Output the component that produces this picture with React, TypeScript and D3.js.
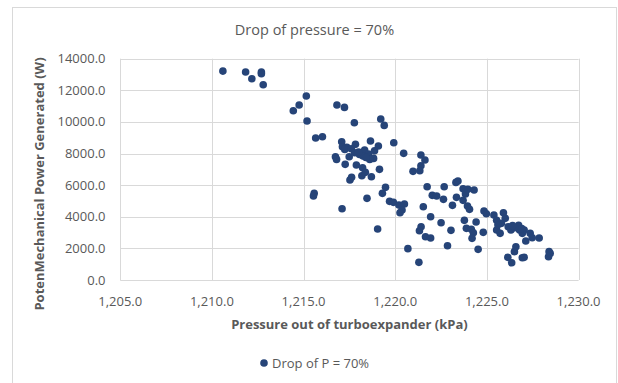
import { useRef, useEffect } from "react";
import * as d3 from "d3";

const pressure = [
  1210.6, 1211.84, 1212.18, 1212.7, 1212.7, 1212.8, 1215.15, 1214.76, 1214.44, 1215.19,
  1216.82, 1217.23, 1217.77, 1219.21, 1219.4, 1215.66, 1216.03, 1217.08, 1217.12, 1217.36,
  1217.25, 1217.83, 1218.65, 1219.08, 1219.92, 1216.74, 1216.8, 1217.49, 1217.79, 1218.05,
  1218.33, 1218.54, 1218.87, 1218.82, 1218.61, 1218.24, 1217.27, 1217.88, 1218.22, 1218.18,
  1218.37, 1218.7, 1217.53, 1217.62, 1219.14, 1220.46, 1221.4, 1221.62, 1221.4, 1221.34,
  1220.97, 1215.58, 1215.54, 1218.46, 1217.1, 1219.3, 1219.47, 1219.69, 1219.9, 1220.2,
  1220.5, 1220.37, 1220.26, 1219.04, 1220.69, 1221.29, 1221.53, 1221.74, 1222.02, 1222.26,
  1222.63, 1222.67, 1221.93, 1221.41, 1221.32, 1221.65, 1221.93, 1222.5, 1223.04, 1222.85,
  1223.12, 1223.34, 1223.31, 1223.42, 1223.7, 1223.83, 1223.96, 1224.3, 1223.7, 1223.94,
  1224.05, 1223.77, 1223.88, 1224.15, 1224.26, 1224.19, 1224.41, 1224.52, 1224.8, 1224.84,
  1224.97, 1225.38, 1225.53, 1225.9, 1226.0, 1225.53, 1225.72, 1225.79, 1226.14, 1226.35,
  1226.5, 1226.58, 1226.16, 1226.31, 1226.73, 1226.78, 1227.03, 1226.93, 1227.12, 1227.36,
  1227.47, 1227.85, 1226.93, 1227.03, 1228.39, 1228.36, 1228.45, 1226.5, 1218.0, 1218.4,
  1217.6, 1226.4, 1226.9, 1225.6,
];

const power = [
  13217, 13154, 12732, 13154, 13049, 12353, 11636, 11067, 10709, 10055,
  11067, 10919, 9950, 10182, 9781, 8980, 9064, 8748, 8432, 8390,
  8263, 8580, 8790, 8474, 8685, 7800, 7631, 7800, 8053, 7947,
  8221, 7968, 8179, 7694, 7631, 7842, 7315, 7273, 7104, 6598,
  6809, 6535, 6324, 6493, 6999, 8011, 7905, 7589, 7230, 6914,
  6872, 5481, 5312, 5165, 4511, 5481, 5860, 4975, 4912, 4743,
  4806, 4427, 4258, 3225, 1982, 1117, 4638, 5902, 5354, 5312,
  5101, 5902, 4005, 3373, 3120, 2740, 2656, 3626, 3141, 2171,
  4722, 5228, 6176, 6261, 5776, 5439, 5734, 5692, 5038, 4680,
  4469, 3773, 3267, 3204, 2993, 2635, 3668, 1939, 3014, 4364,
  4195, 4111, 3773, 4258, 3900, 3162, 2951, 3584, 1433, 1096,
  1792, 2108, 3373, 3162, 3457, 3162, 3162, 2951, 2466, 2951,
  2677, 2656, 1412, 1433, 1792, 1475, 1686, 3310, 8100, 7750,
  8300, 3450, 3250, 3500,
];

const xTicks = [1205, 1210, 1215, 1220, 1225, 1230];
const yTicks = [0, 2000, 4000, 6000, 8000, 10000, 12000, 14000];

const W = 618;
const H = 383;
const DOT = "#264478";
const TXT = "#595959";
const FONT = "'Open Sans', 'Noto Sans', sans-serif";

export default function App() {
  const svgRef = useRef<SVGSVGElement>(null);

  useEffect(() => {
    if (!svgRef.current) return;
    const svg = d3.select(svgRef.current);
    svg.selectAll("*").remove();

    const x = d3.scaleLinear().domain([1205, 1230]).range([120.2, 578.6]);
    const y = d3.scaleLinear().domain([0, 14000]).range([280, 58.7]);

    svg.append("rect").attr("width", W).attr("height", H).attr("fill", "#fff");

    // chart area border
    svg.append("rect")
      .attr("x", 12.5).attr("y", 7.5)
      .attr("width", 604).attr("height", 390)
      .attr("fill", "none").attr("stroke", "#d9d9d9");

    // gridlines
    svg.append("g").selectAll("line").data(yTicks).join("line")
      .attr("x1", x(1205)).attr("x2", x(1230))
      .attr("y1", (d) => Math.round(y(d)) + 0.5).attr("y2", (d) => Math.round(y(d)) + 0.5)
      .attr("stroke", "#d9d9d9");
    svg.append("g").selectAll("line").data(xTicks).join("line")
      .attr("x1", (d) => Math.round(x(d)) + 0.5).attr("x2", (d) => Math.round(x(d)) + 0.5)
      .attr("y1", y(14000)).attr("y2", y(0))
      .attr("stroke", "#d9d9d9");

    // tick labels
    svg.append("g").selectAll("text").data(yTicks).join("text")
      .attr("x", 105.5).attr("y", (d) => y(d))
      .attr("dy", "0.35em").attr("text-anchor", "end")
      .style("font-family", FONT).style("font-size", "13px").style("fill", TXT)
      .text((d) => d.toFixed(1));
    svg.append("g").selectAll("text").data(xTicks).join("text")
      .attr("x", (d) => x(d)).attr("y", 306)
      .attr("text-anchor", "middle")
      .style("font-family", FONT).style("font-size", "13px").style("fill", TXT)
      .text((d) => d3.format(",.1f")(d));

    // points
    svg.append("g").selectAll("circle").data(pressure).join("circle")
      .attr("cx", (d) => x(d)).attr("cy", (_, i) => y(power[i]))
      .attr("r", 3.8).attr("fill", DOT);

    // title
    svg.append("text")
      .attr("x", 314.5).attr("y", 35).attr("text-anchor", "middle")
      .style("font-family", FONT).style("font-size", "14.5px").style("fill", TXT)
      .text("Drop of pressure = 70%");

    // axis titles
    svg.append("text")
      .attr("x", 349.4).attr("y", 329).attr("text-anchor", "middle")
      .style("font-family", FONT).style("font-size", "13px").style("font-weight", "700").style("fill", TXT)
      .text("Pressure out of turboexpander (kPa)");
    svg.append("text")
      .attr("transform", "translate(44,184) rotate(-90)").attr("text-anchor", "middle")
      .style("font-family", FONT).style("font-size", "13px").style("font-weight", "700").style("fill", TXT)
      .text("PotenMechanical Power Generated (W)");

    // legend
    svg.append("circle").attr("cx", 264).attr("cy", 363).attr("r", 3.8).attr("fill", DOT);
    svg.append("text")
      .attr("x", 272).attr("y", 368)
      .style("font-family", FONT).style("font-size", "13px").style("fill", TXT)
      .text("Drop of P = 70%");
  }, []);

  return (
    <svg
      ref={svgRef}
      width={W}
      height={H}
      style={{ position: "absolute", left: 0, top: 0, display: "block" }}
    />
  );
}
